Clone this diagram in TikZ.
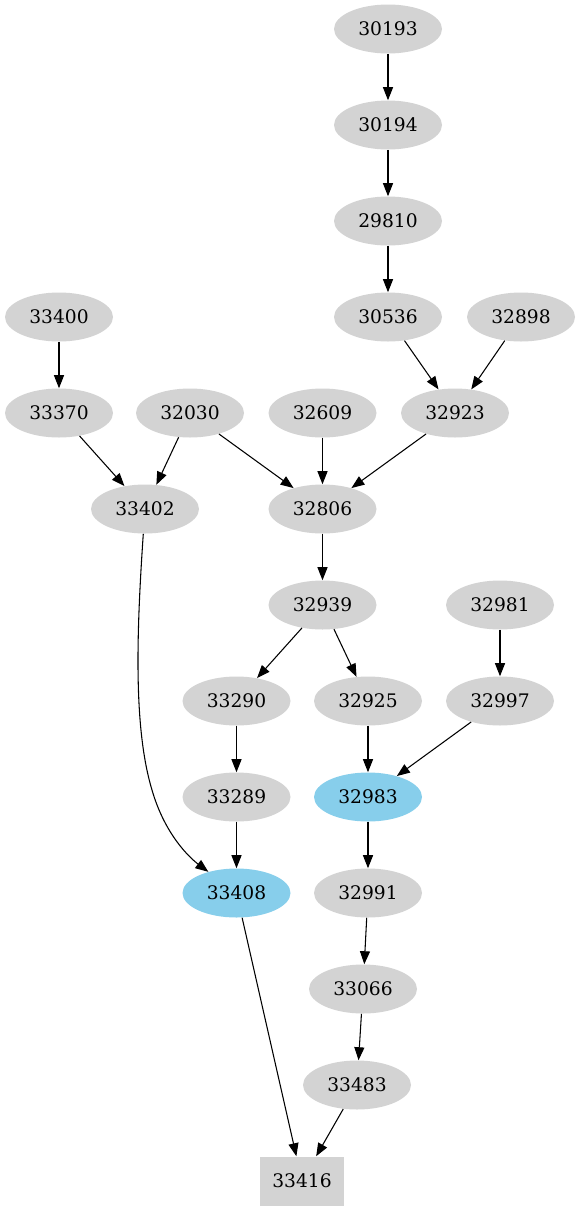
\documentclass[tikz,border=0pt]{standalone}
\usepackage{fontspec}
\setmainfont{DejaVu Serif}
\usetikzlibrary{shapes.geometric}
\usetikzlibrary{arrows.meta}

\definecolor{gvgray}{HTML}{D3D3D3}
\definecolor{gvblue}{HTML}{87CEEB}

\begin{document}
\begin{tikzpicture}[x=0.75pt,y=-0.75pt,
		blob/.style={ellipse,fill=gvgray,minimum width=81pt,minimum height=36.75pt,inner sep=0pt,font=\fontsize{14}{16}\selectfont},
		hot/.style={blob,fill=gvblue},
		sink/.style={rectangle,fill=gvgray,minimum width=63pt,minimum height=36.75pt,inner sep=0pt,font=\fontsize{14}{16}\selectfont},
		edge/.style={line width=0.8pt,-{Triangle[length=9.75pt,width=7.5pt]}}]
			\useasboundingbox (0,0) rectangle (579,1211);
			% nodes, row by row
			\node[blob] (n30193) at (388,29) {30193};
			\node[blob] (n30194) at (388,125) {30194};
			\node[blob] (n29810) at (388,221) {29810};
			\node[blob] (n33400) at (59,317) {33400};
			\node[blob] (n30536) at (388,317) {30536};
			\node[blob] (n32898) at (521,317) {32898};
			\node[blob] (n33370) at (59,413) {33370};
			\node[blob] (n32030) at (190,413) {32030};
			\node[blob] (n32609) at (322.5,413) {32609};
			\node[blob] (n32923) at (455,413) {32923};
			\node[blob] (n33402) at (145,509) {33402};
			\node[blob] (n32806) at (322.5,509) {32806};
			\node[blob] (n32939) at (322.5,605) {32939};
			\node[blob] (n32981) at (500,605) {32981};
			\node[blob] (n33290) at (236.5,701) {33290};
			\node[blob] (n32925) at (368,701) {32925};
			\node[blob] (n32997) at (500,701) {32997};
			\node[blob] (n33289) at (236.5,797) {33289};
			\node[hot] (n32983) at (368,797) {32983};
			\node[hot] (n33408) at (236.5,893) {33408};
			\node[blob] (n32991) at (368,893) {32991};
			\node[blob] (n33066) at (363,989) {33066};
			\node[blob] (n33483) at (357,1085) {33483};
			\node[sink] (n33416) at (302,1181) {33416};
			% edges
			\draw[edge] (n30193) -- (n30194);
			\draw[edge] (n30194) -- (n29810);
			\draw[edge] (n29810) -- (n30536);
			\draw[edge] (n30536) -- (n32923);
			\draw[edge] (n32898) -- (n32923);
			\draw[edge] (n33400) -- (n33370);
			\draw[edge] (n33370) -- (n33402);
			\draw[edge] (n32030) -- (n33402);
			\draw[edge] (n32030) -- (n32806);
			\draw[edge] (n32609) -- (n32806);
			\draw[edge] (n32923) -- (n32806);
			\draw[edge] (n32806) -- (n32939);
			\draw[edge] (n32939) -- (n33290);
			\draw[edge] (n32939) -- (n32925);
			\draw[edge] (n32981) -- (n32997);
			\draw[edge] (n33290) -- (n33289);
			\draw[edge] (n32925) -- (n32983);
			\draw[edge] (n32997) -- (n32983);
			\draw[edge] (n33289) -- (n33408);
			\draw[edge] (n33402) .. controls (136,640) and (134,730) .. (152,790) .. controls (165,835) and (190,858) .. (n33408);
			\draw[edge] (n32983) -- (n32991);
			\draw[edge] (n32991) -- (n33066);
			\draw[edge] (n33066) -- (n33483);
			\draw[edge] (n33408) -- (n33416);
			\draw[edge] (n33483) -- (n33416);
		\end{tikzpicture}
\end{document}
